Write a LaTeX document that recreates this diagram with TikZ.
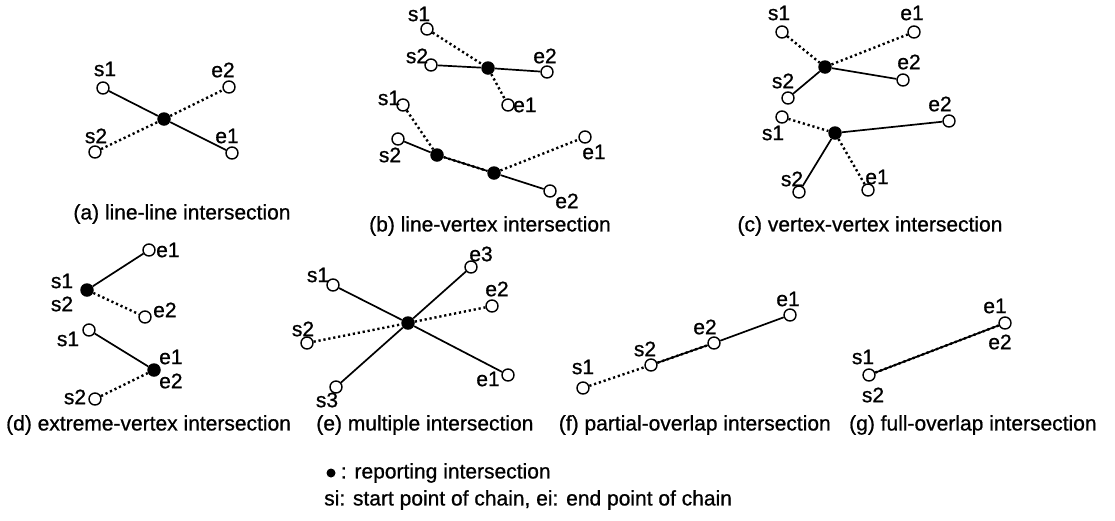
\documentclass[tikz,border=0pt]{standalone}
\usepackage{fontspec}
\setmainfont{Liberation Sans}[FakeBold=0.8]
\usetikzlibrary{positioning}

\begin{document}
\begin{tikzpicture}[x=1pt, y=-1pt,
    endpt/.style={circle, draw, line width=1.4pt, fill=white, inner sep=0pt, minimum size=12pt},
    hit/.style={circle, fill=black, inner sep=0pt, minimum size=13.5pt},
    lbl/.style={inner sep=0pt, font=\fontsize{21}{25}\selectfont},
    capt/.style={inner sep=0pt, font=\fontsize{21}{25}\selectfont},
    chain/.style={line width=1.7pt},
    dotchain/.style={line width=2.4pt, dash pattern=on 2.2pt off 2.8pt}]
    \useasboundingbox (0,0) rectangle (1115,520);

    % (a) line-line
    \node[endpt] (as1) at (103,88) {};
    \node[endpt] (ae2) at (229,87) {};
    \node[endpt] (as2) at (95,152) {};
    \node[endpt] (ae1) at (232,153) {};
    \node[hit] (ahit) at (164,119) {};
    \draw[chain] (as1) -- (ahit) -- (ae1);
    \draw[dotchain] (as2) -- (ahit) -- (ae2);
    \node[lbl] (as1l) at (105,69) {s1};
    \node[lbl] (ae2l) at (223,70) {e2};
    \node[lbl] (as2l) at (96,136) {s2};
    \node[lbl] (ae1l) at (227,136) {e1};
    \node[capt] (capa) at (182,214) {(a) line-line intersection};

    % (b) line-vertex
    \node[endpt] (bs1) at (427,29) {};
    \node[endpt] (bs2) at (431,65) {};
    \node[hit] (bhit) at (488,68) {};
    \node[endpt] (be2) at (547,72) {};
    \node[endpt] (be1) at (508,105) {};
    \draw[dotchain] (bs1) -- (bhit) -- (be1);
    \draw[chain] (bs2) -- (bhit) -- (be2);
    \node[lbl] (bs1l) at (419,14) {s1};
    \node[lbl] (bs2l) at (417,56) {s2};
    \node[lbl] (be2l) at (545,56) {e2};
    \node[lbl, anchor=west] (be1l) at (513,105) {e1};
    \node[endpt] (bs1b) at (403,105) {};
    \node[endpt] (bs2b) at (398,139) {};
    \node[hit] (bhitb) at (437,155) {};
    \node[hit] (bhitc) at (494,173) {};
    \node[endpt] (be1b) at (585,137) {};
    \node[endpt] (be2b) at (550,191) {};
    \draw[chain] (bs2b) -- (bhitb) -- (bhitc) -- (be2b);
    \draw[dotchain] (bs1b) -- (bhitb) -- (bhitc) -- (be1b);
    \node[lbl] (bs1bl) at (389,98) {s1};
    \node[lbl] (bs2bl) at (390,155) {s2};
    \node[lbl] (be1bl) at (594,152) {e1};
    \node[lbl] (be2bl) at (567,201) {e2};
    \node[capt] (capb) at (490,226) {(b) line-vertex intersection};

    % (c) vertex-vertex
    \node[endpt] (cs1) at (782,32) {};
    \node[endpt] (ce1) at (914,32) {};
    \node[hit] (chit) at (825,67) {};
    \node[endpt] (ce2) at (903,80) {};
    \node[endpt] (cs2) at (788,98) {};
    \draw[dotchain] (cs1) -- (chit) -- (ce1);
    \draw[chain] (cs2) -- (chit) -- (ce2);
    \node[lbl] (cs1l) at (779,13) {s1};
    \node[lbl] (ce1l) at (912,13) {e1};
    \node[lbl] (ce2l) at (909,62) {e2};
    \node[lbl] (cs2l) at (783,81) {s2};
    \node[endpt] (cs1b) at (782,117) {};
    \node[hit] (chitb) at (835,133) {};
    \node[endpt] (ce2b) at (949,121) {};
    \node[endpt] (cs2b) at (799,192) {};
    \node[endpt] (ce1b) at (868,190) {};
    \draw[dotchain] (cs1b) -- (chitb) -- (ce1b);
    \draw[chain] (cs2b) -- (chitb) -- (ce2b);
    \node[lbl] (cs1bl) at (773,133) {s1};
    \node[lbl] (ce2bl) at (940,104) {e2};
    \node[lbl] (cs2bl) at (792,179) {s2};
    \node[lbl] (ce1bl) at (877,177) {e1};
    \node[capt] (capc) at (870,226) {(c) vertex-vertex intersection};

    % (d) extreme-vertex
    \node[hit] (dhit) at (87,290) {};
    \node[endpt] (de1) at (149,250) {};
    \node[endpt] (de2) at (145,317) {};
    \draw[chain] (dhit) -- (de1);
    \draw[dotchain] (dhit) -- (de2);
    \node[lbl] (ds1l) at (62,281) {s1};
    \node[lbl] (ds2l) at (62,304) {s2};
    \node[lbl, anchor=west] (de1l) at (156,250) {e1};
    \node[lbl, anchor=west] (de2l) at (153,310) {e2};
    \node[endpt] (ds1) at (89,330) {};
    \node[hit] (dhitb) at (154,370) {};
    \node[endpt] (ds2) at (95,399) {};
    \draw[chain] (ds1) -- (dhitb);
    \draw[dotchain] (ds2) -- (dhitb);
    \node[lbl] (ds1bl) at (68,339) {s1};
    \node[lbl] (ds2bl) at (75,397) {s2};
    \node[lbl, anchor=west] (de1bl) at (159,357) {e1};
    \node[lbl, anchor=west] (de2bl) at (159,381) {e2};

    % (e) multiple
    \node[hit] (ehit) at (408,323) {};
    \node[endpt] (es1) at (333,285) {};
    \node[endpt] (es2) at (307,343) {};
    \node[endpt] (es3) at (336,387) {};
    \node[endpt] (ee1) at (508,375) {};
    \node[endpt] (ee2) at (492,306) {};
    \node[endpt] (ee3) at (471,267) {};
    \draw[chain] (es1) -- (ehit) -- (ee1);
    \draw[dotchain] (es2) -- (ehit) -- (ee2);
    \draw[chain] (es3) -- (ehit) -- (ee3);
    \node[lbl] (es1l) at (318,275) {s1};
    \node[lbl] (es2l) at (303,329) {s2};
    \node[lbl] (es3l) at (327,400) {s3};
    \node[lbl] (ee1l) at (488,379) {e1};
    \node[lbl] (ee2l) at (497,289) {e2};
    \node[lbl] (ee3l) at (481,254) {e3};

    % (f) partial-overlap
    \node[endpt] (fs1) at (583,388) {};
    \node[endpt] (fs2) at (651,365) {};
    \node[endpt] (fe2) at (714,343) {};
    \node[endpt] (fe1) at (790,315) {};
    \draw[chain] (fs2) -- (fe2) -- (fe1);
    \draw[dotchain] (fs1) -- (fs2) -- (fe2);
    \node[lbl] (fs1l) at (583,367) {s1};
    \node[lbl] (fs2l) at (645,349) {s2};
    \node[lbl] (fe2l) at (705,327) {e2};
    \node[lbl] (fe1l) at (788,299) {e1};

    % (g) full-overlap
    \node[endpt] (gs) at (869,375) {};
    \node[endpt] (ge) at (1005,323) {};
    \draw[chain] (gs) -- (ge);
    \draw[dotchain] (gs) -- (ge);
    \node[lbl] (gs1l) at (863,357) {s1};
    \node[lbl] (gs2l) at (873,395) {s2};
    \node[lbl] (ge1l) at (995,306) {e1};
    \node[lbl] (ge2l) at (1000,342) {e2};

    % captions of the second row
    \node[capt, anchor=west] (capd) at (6,425) {(d) extreme-vertex intersection};
    \node[capt, right=25pt of capd] (cape) {(e) multiple intersection};
    \node[capt, right=25pt of cape] (capf) {(f) partial-overlap intersection};
    \node[capt, right=18pt of capf] (capg) {(g) full-overlap intersection};

    % key
    \node[hit, minimum size=9pt] (keydot) at (331,473) {};
    \node[lbl, right=5pt of keydot] (keyhit) {: reporting intersection};
    \node[lbl, anchor=west] (keychain) at (324,500) {si: start point of chain, ei: end point of chain};
\end{tikzpicture}
\end{document}
